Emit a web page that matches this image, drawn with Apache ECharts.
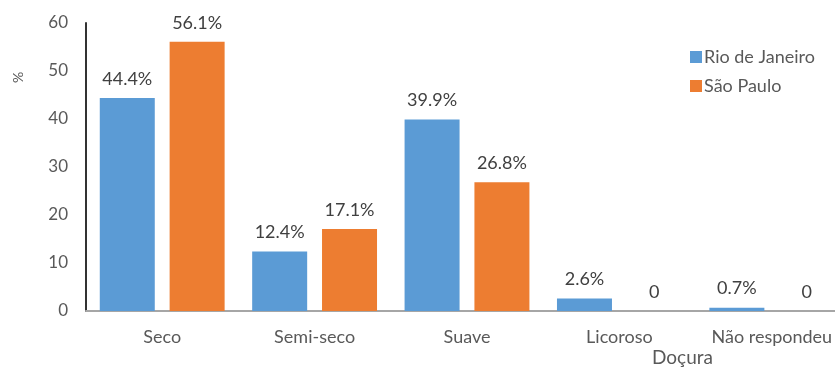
<!DOCTYPE html>
<html>
<head>
<meta charset="utf-8">
<script src="https://cdn.jsdelivr.net/npm/echarts@6/dist/echarts.min.js"></script>
<style>
  html, body { margin: 0; padding: 0; background: #fff; overflow: hidden; width: 835px; height: 370px; }
  /* the plot area runs a little past the right edge of the page */
  #chart { width: 848px; height: 370px; }
</style>
</head>
<body>
<div id="chart"></div>
<script>
// Sweetness preference by city (%)
const categories = ['Seco', 'Semi-seco', 'Suave', 'Licoroso', 'Não respondeu'];
const rioValues = [44.4, 12.4, 39.9, 2.6, 0.7];
const spValues = [56.1, 17.1, 26.8, 0, 0];
const seriesNames = ['Rio de Janeiro', 'São Paulo'];
const yTicks = [0, 10, 20, 30, 40, 50, 60];

const FONT = 'Lato, "Open Sans", sans-serif';
const TEXT = '#595959';

function pctLabel(p) {
  return p.value === 0 ? '0' : p.value.toFixed(1) + '%';
}

const chart = echarts.init(document.getElementById('chart'), null, { renderer: 'canvas' });

chart.setOption({
  animation: false,
  textStyle: { fontFamily: FONT },
  grid: { left: 86, width: 762, top: 23, height: 288, containLabel: false },
  legend: {
    data: seriesNames,
    orient: 'vertical',
    left: 685,
    top: 43,
    itemWidth: 12,
    itemHeight: 12,
    itemGap: 11,
    icon: 'rect',
    textStyle: { color: TEXT, fontSize: 18, fontFamily: FONT, padding: [0, 0, 0, -3] }
  },
  xAxis: {
    type: 'category',
    data: categories,
    axisLine: { lineStyle: { color: '#a6a6a6', width: 2 } },
    axisTick: { show: false },
    axisLabel: { color: TEXT, fontSize: 18, margin: 17, interval: 0 }
  },
  yAxis: {
    type: 'value',
    min: yTicks[0],
    max: yTicks[yTicks.length - 1],
    interval: 10,
    splitLine: { show: false },
    axisLine: { show: true, lineStyle: { color: '#333', width: 2 } },
    axisTick: { show: false },
    axisLabel: { color: TEXT, fontSize: 17, margin: 18 }
  },
  graphic: [
    {
      type: 'text',
      left: 652,
      top: 348,
      style: { text: 'Doçura', fill: TEXT, font: '19px ' + FONT }
    },
    {
      type: 'text',
      x: 11,
      y: 83,
      rotation: Math.PI / 2,
      style: { text: '%', fill: TEXT, font: '14px ' + FONT }
    }
  ],
  series: [
    {
      name: seriesNames[0],
      type: 'bar',
      data: rioValues,
      barWidth: 55,
      barGap: '27%',
      itemStyle: { color: '#5B9BD5' },
      label: { show: true, position: 'top', distance: 10, color: '#404040', fontSize: 18, formatter: pctLabel }
    },
    {
      name: seriesNames[1],
      type: 'bar',
      data: spValues,
      barWidth: 55,
      barGap: '27%',
      itemStyle: { color: '#ED7D31' },
      label: { show: true, position: 'top', distance: 10, color: '#404040', fontSize: 18, formatter: pctLabel }
    }
  ]
});
</script>
</body>
</html>
